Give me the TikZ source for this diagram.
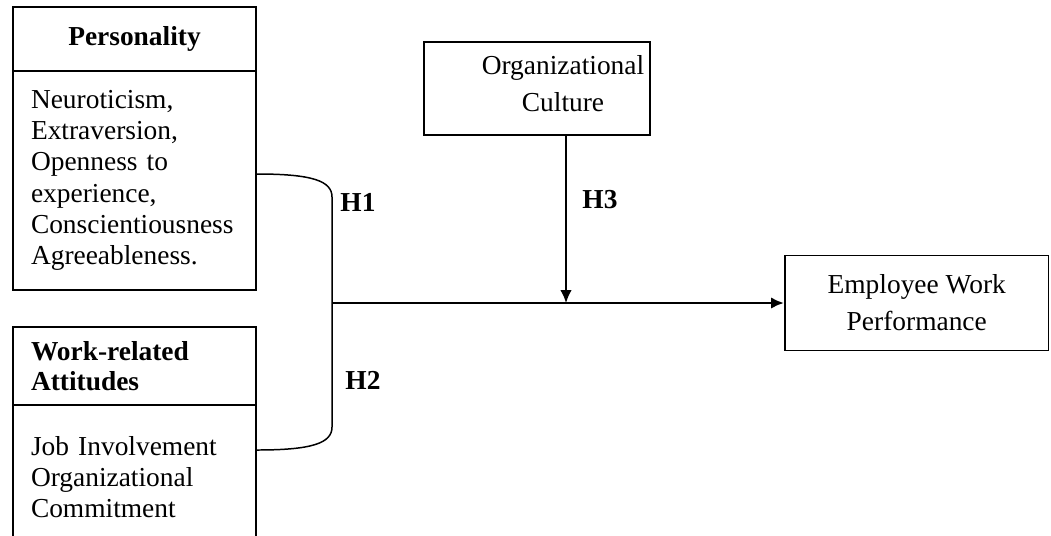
\documentclass[tikz,border=0pt]{standalone}
\usepackage{fontspec}
\setmainfont{Liberation Serif}
\usetikzlibrary{arrows.meta}

\begin{document}
\begin{tikzpicture}[>={Latex[length=2.6mm,width=2.3mm]},font=\fontsize{15.6}{17.8}\selectfont]
				\useasboundingbox (0,0) rectangle (21.02,-10.7);
				\clip (0,0) rectangle (21.02,-10.7);
				
				\begin{scope}[every node/.style={rectangle,draw,line width=1.1pt,minimum width=4.86cm,text width=4.14cm,inner xsep=0.36cm}]
					\node[align=center,font=\fontsize{15.6}{17.8}\selectfont\bfseries,minimum height=1.28cm] (pershead) at (2.69,-0.78) {Personality};
					\node[align=left,minimum height=4.38cm] (persbody) at (2.69,-3.61) {Neuroticism,\\Extraversion,\\Openness to\\experience,\\Conscientiousness\\Agreeableness.};
					\node[align=left,font=\fontsize{15.6}{17.2}\selectfont\bfseries,minimum height=1.56cm] (workhead) at (2.69,-7.32) {Work-related\\Attitudes};
					\node[align=left,minimum height=2.88cm] (workbody) at (2.69,-9.54) {Job Involvement\\Organizational\\Commitment};
				\end{scope}
				
				\node[draw,line width=1.1pt,minimum width=4.52cm,minimum height=1.86cm] (orgculture) at (10.74,-1.77) {};
				\node[align=center,font=\fontsize{15.6}{21}\selectfont] (orgtext) at (11.26,-1.68) {Organizational\\Culture};
				\node[draw,line width=1.1pt,minimum width=5.27cm,minimum height=1.9cm,align=center,font=\fontsize{15.6}{21}\selectfont] (employee) at (18.335,-6.06) {Employee Work\\Performance};
				
				\coordinate (join) at (6.64,-6.06);
				\coordinate (moderate) at (11.32,-6.06);
				
				% bracket joining both groups
				\draw[line width=0.85pt] ([yshift=0.13cm]persbody.east) .. controls (6.25,-3.48) and (6.64,-3.62) .. (6.64,-3.94) -- (6.64,-8.54) .. controls (6.64,-8.86) and (6.25,-9.0) .. ([yshift=0.54cm]workbody.east);
				\draw[->,line width=1.6pt] (join) -- (employee.west);
				\draw[->,line width=0.85pt] (orgculture.south -| moderate) -- (moderate);
				
				\node[font=\fontsize{15.6}{17.8}\selectfont\bfseries] (h1) at (7.16,-4.04) {H1};
				\node[font=\fontsize{15.6}{17.8}\selectfont\bfseries] (h2) at (7.26,-7.6) {H2};
				\node[font=\fontsize{15.6}{17.8}\selectfont\bfseries] (h3) at (12.0,-4.0) {H3};
\end{tikzpicture}
\end{document}
